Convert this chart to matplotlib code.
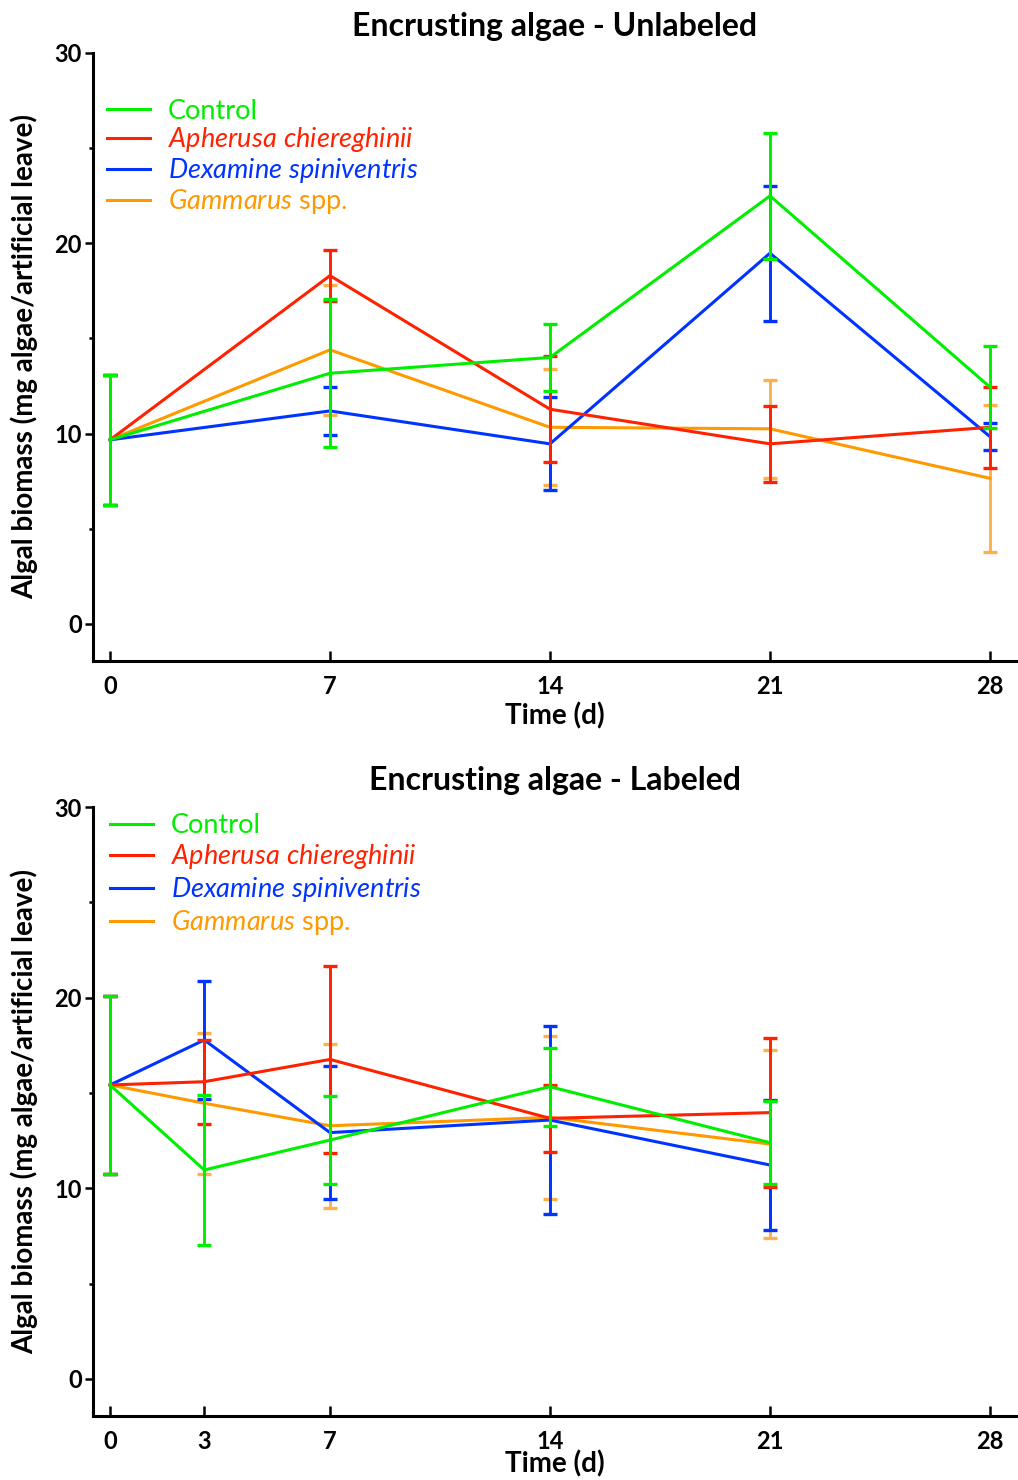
import numpy as np
import matplotlib
matplotlib.use("Agg")
import matplotlib.pyplot as plt
from matplotlib.ticker import FixedLocator

plt.rcParams['font.family'] = ['Lato', 'DejaVu Sans']
plt.rcParams['mathtext.fontset'] = 'custom'
plt.rcParams['mathtext.it'] = 'Lato:italic'
plt.rcParams['mathtext.rm'] = 'Lato'

# series names, in legend order
series = ["Control", "Apherusa chiereghinii", "Dexamine spiniventris", "Gammarus spp."]
labels = ["Control", r"$\mathit{Apherusa\ chiereghinii}$",
          r"$\mathit{Dexamine\ spiniventris}$", r"$\mathit{Gammarus}$ spp."]
colors = ["#00EE00", "#FF2200", "#0033FF", "#FF9900"]
err_colors = ["#00EE00", "#FF2200", "#0033FF", "#FFB04A"]

# unlabeled experiment
days_unlab = [0, 7, 14, 21, 28]
mean_unlab = {
    "Control":               [9.67, 13.17, 14.00, 22.49, 12.44],
    "Apherusa chiereghinii": [9.67, 18.30, 11.28, 9.46, 10.33],
    "Dexamine spiniventris": [9.67, 11.19, 9.46, 19.48, 9.84],
    "Gammarus spp.":         [9.67, 14.40, 10.33, 10.25, 7.65],
}
se_unlab = {
    "Control":               [3.42, 3.90, 1.75, 3.30, 2.15],
    "Apherusa chiereghinii": [3.42, 1.35, 2.80, 2.00, 2.12],
    "Dexamine spiniventris": [3.42, 1.25, 2.44, 3.55, 0.70],
    "Gammarus spp.":         [3.42, 3.40, 3.05, 2.57, 3.85],
}

# labeled experiment
days_lab = [0, 3, 7, 14, 21]
mean_lab = {
    "Control":               [15.42, 10.96, 12.53, 15.33, 12.39],
    "Apherusa chiereghinii": [15.42, 15.59, 16.76, 13.67, 13.97],
    "Dexamine spiniventris": [15.42, 17.78, 12.92, 13.58, 11.22],
    "Gammarus spp.":         [15.42, 14.46, 13.28, 13.72, 12.32],
}
se_lab = {
    "Control":               [4.65, 3.95, 2.30, 2.05, 2.17],
    "Apherusa chiereghinii": [4.65, 2.20, 4.90, 1.75, 3.90],
    "Dexamine spiniventris": [4.65, 3.10, 3.50, 4.93, 3.40],
    "Gammarus spp.":         [4.65, 3.70, 4.30, 4.27, 4.95],
}

xticks_unlab = [0, 7, 14, 21, 28]
xticks_lab = [0, 3, 7, 14, 21, 28]
yticks = [0, 10, 20, 30]
yticks_minor = [5, 15, 25]

# draw order bottom -> top
zorder = {"Gammarus spp.": 2, "Dexamine spiniventris": 3,
          "Apherusa chiereghinii": 4, "Control": 5}


def draw_panel(ax, days, means, ses, xticks, title, leg_anchor, leg_spacing,
               xlabelpad=3):
    handles = []
    for name, lab, c, ec in zip(series, labels, colors, err_colors):
        z = zorder[name]
        ax.errorbar(days, means[name], yerr=ses[name], fmt='none', ecolor=ec,
                    elinewidth=2.1, capsize=5, capthick=2.4, zorder=z)
        line, = ax.plot(days, means[name], color=c, lw=2.2, label=lab, zorder=z)
        handles.append(line)

    ax.set_xlim(-0.54, 28.83)
    ax.set_ylim(-1.95, 30)
    ax.set_xticks(xticks)
    ax.set_yticks(yticks)
    ax.yaxis.set_minor_locator(FixedLocator(yticks_minor))

    for s in ['top', 'right']:
        ax.spines[s].set_visible(False)
    for s in ['left', 'bottom']:
        ax.spines[s].set_linewidth(2.2)

    ax.tick_params(axis='x', direction='in', length=7, width=1.8, pad=10,
                   labelsize=17)
    ax.tick_params(axis='y', which='major', direction='out', length=6,
                   width=1.8, pad=2, labelsize=17)
    ax.tick_params(axis='y', which='minor', direction='out', length=3, width=1.8)
    for t in ax.get_xticklabels() + ax.get_yticklabels():
        t.set_fontweight('bold')

    ax.set_title(title, fontsize=23, fontweight='bold', pad=12)
    ax.set_xlabel("Time (d)", fontsize=20, fontweight='bold', labelpad=xlabelpad)
    ax.set_ylabel("Algal biomass (mg algae/artificial leave)", fontsize=20,
                  fontweight='bold', labelpad=12)

    leg = ax.legend(handles=handles, loc='upper left', bbox_to_anchor=leg_anchor,
                    frameon=False, fontsize=19.5, handlelength=1.6,
                    handletextpad=0.65, labelspacing=leg_spacing, borderpad=0,
                    borderaxespad=0)
    for txt, c in zip(leg.get_texts(), colors):
        txt.set_color(c)


def main():
    fig = plt.figure(figsize=(10.18, 14.8), dpi=100)
    ax1 = fig.add_axes([0.0914, 0.5534, 0.9067, 0.4108])
    ax2 = fig.add_axes([0.0914, 0.0432, 0.9067, 0.4115])

    draw_panel(ax1, days_unlab, mean_unlab, se_unlab, xticks_unlab,
               "Encrusting algae - Unlabeled", (0.015, 0.925), 0.07)
    # bottom label sits right at the figure edge, pull it up a little
    draw_panel(ax2, days_lab, mean_lab, se_lab, xticks_lab,
               "Encrusting algae - Labeled", (0.018, 0.99), 0.15, xlabelpad=-2)

    fig.savefig("out.png", dpi=100)


if __name__ == '__main__':
    main()
